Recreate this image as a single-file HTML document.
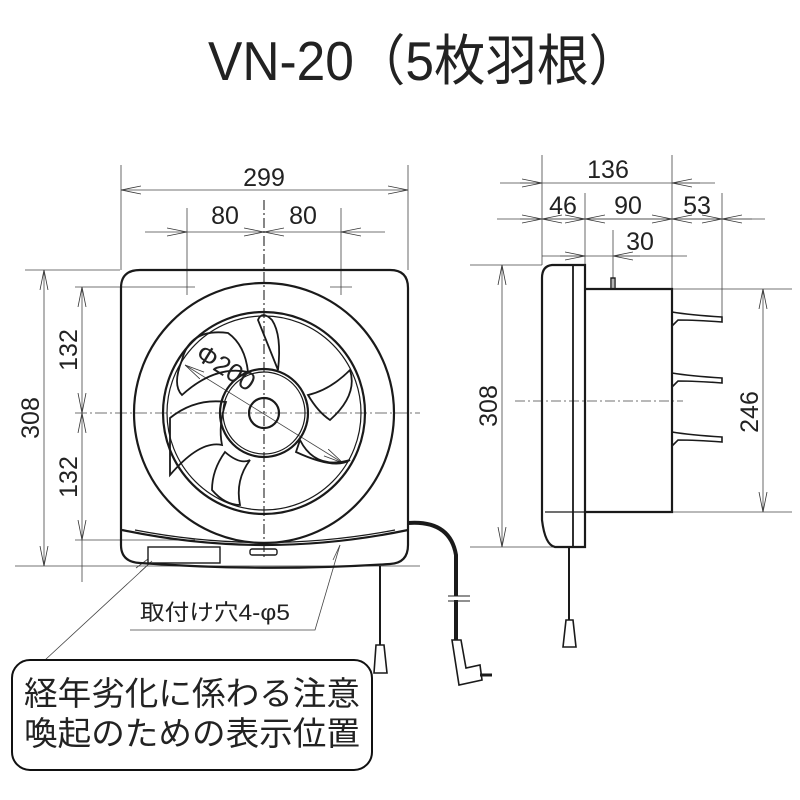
<!DOCTYPE html>
<html><head><meta charset="utf-8"><style>
html,body{margin:0;padding:0;background:#fff;width:800px;height:800px;overflow:hidden}
svg{display:block}
text{font-family:"Liberation Sans","Noto Sans CJK JP",sans-serif;fill:#222}
</style></head><body>
<svg width="800" height="800" viewBox="0 0 800 800" xmlns="http://www.w3.org/2000/svg">
<defs>
<marker id="a" viewBox="0 0 20 10" refX="20" refY="5" markerWidth="20" markerHeight="10" orient="auto-start-reverse" markerUnits="userSpaceOnUse"><path d="M0,1 L20,5 L0,9" fill="none" stroke="#333" stroke-width="0.8"/></marker>
</defs>
<text x="208" y="80" font-size="55" textLength="432" lengthAdjust="spacingAndGlyphs" fill="#222">VN-20（5枚羽根）</text>

<g stroke="#444" stroke-width="0.8" fill="none">
<line x1="121" y1="165" x2="121" y2="270"/><line x1="408" y1="165" x2="408" y2="270"/>
<line x1="121" y1="190" x2="408" y2="190" marker-start="url(#a)" marker-end="url(#a)"/>
<line x1="187" y1="208" x2="187" y2="295"/><line x1="341" y1="208" x2="341" y2="295"/>
<line x1="145" y1="232" x2="187" y2="232" marker-end="url(#a)"/>
<line x1="187" y1="232" x2="264" y2="232" marker-end="url(#a)"/>
<line x1="264" y1="232" x2="341" y2="232" marker-start="url(#a)"/>
<line x1="341" y1="232" x2="385" y2="232" marker-start="url(#a)"/>
<line x1="25" y1="270" x2="120" y2="270"/><line x1="15" y1="566" x2="420" y2="566"/>
<line x1="44" y1="270" x2="44" y2="566" marker-start="url(#a)" marker-end="url(#a)"/>
<line x1="75" y1="287" x2="195" y2="287"/><line x1="75" y1="540" x2="195" y2="540"/>
<line x1="82" y1="287" x2="82" y2="413" marker-start="url(#a)" marker-end="url(#a)"/>
<line x1="82" y1="413" x2="82" y2="540" marker-start="url(#a)" marker-end="url(#a)"/>
<line x1="82" y1="540" x2="82" y2="582"/>
<line x1="330" y1="287" x2="352" y2="287"/>
<line x1="75" y1="413" x2="420" y2="413" stroke-dasharray="12,3,2,3"/>
<line x1="264" y1="200" x2="264" y2="560" stroke-dasharray="10,3,2,3" stroke-width="1.3"/>
<line x1="185" y1="365" x2="343" y2="463" marker-start="url(#a)" marker-end="url(#a)"/>
<polyline points="130,630 315,630 340,545" /><line x1="340" y1="545" x2="333" y2="560"/>
<line x1="45" y1="660" x2="150" y2="563"/><line x1="140" y1="572" x2="152" y2="561"/><line x1="136" y1="568" x2="148" y2="559"/>
<line x1="542" y1="155" x2="542" y2="265"/><line x1="672" y1="155" x2="672" y2="289"/>
<line x1="585" y1="193" x2="585" y2="289"/><line x1="722" y1="193" x2="722" y2="318"/>
<line x1="500" y1="183" x2="715" y2="183"/>
<line x1="520" y1="183" x2="542" y2="183" marker-end="url(#a)"/><line x1="672" y1="183" x2="700" y2="183" marker-start="url(#a)"/>
<line x1="497" y1="219" x2="765" y2="219"/>
<line x1="520" y1="219" x2="542" y2="219" marker-end="url(#a)"/><line x1="542" y1="219" x2="585" y2="219" marker-start="url(#a)" marker-end="url(#a)"/>
<line x1="585" y1="219" x2="672" y2="219" marker-start="url(#a)" marker-end="url(#a)"/>
<line x1="672" y1="219" x2="722" y2="219" marker-start="url(#a)" marker-end="url(#a)"/>
<line x1="722" y1="219" x2="752" y2="219" marker-start="url(#a)"/>
<line x1="542" y1="256" x2="687" y2="256"/>
<line x1="560" y1="256" x2="585" y2="256" marker-end="url(#a)"/><line x1="613" y1="256" x2="640" y2="256" marker-start="url(#a)"/>
<line x1="613" y1="230" x2="613" y2="289"/>
<line x1="470" y1="265" x2="542" y2="265"/><line x1="470" y1="547" x2="565" y2="547"/>
<line x1="502" y1="265" x2="502" y2="547" marker-start="url(#a)" marker-end="url(#a)"/>
<line x1="672" y1="289" x2="792" y2="289"/><line x1="672" y1="512" x2="792" y2="512"/>
<line x1="763" y1="289" x2="763" y2="512" marker-start="url(#a)" marker-end="url(#a)"/>
<line x1="515" y1="401" x2="683" y2="401" stroke-dasharray="10,3,2,3"/>
</g>

<g stroke="#1a1a1a" stroke-width="2.2" fill="none">
<path d="M140,270 H390 Q408,270 408,288 V545 Q408,563 390,564 Q264,572 140,563 Q121,562 121,545 V288 Q121,270 140,270 Z"/>
<circle cx="264" cy="413" r="130"/>
<circle cx="264" cy="413" r="101"/>
<circle cx="264" cy="413" r="97" stroke-width="1.2"/>
<circle cx="264" cy="413" r="44"/>
<circle cx="264" cy="413" r="41" stroke-width="1.2"/>
<circle cx="264" cy="413" r="15"/>
<path d="M122,530 Q264,560 408,530"/>
<path d="M135,530 Q264,555 395,530" stroke-width="1.2"/>
<rect x="148" y="547" width="72" height="16" stroke-width="1.4"/>
<rect x="250" y="549" width="27" height="6" rx="2" stroke-width="1.4"/>
<g stroke-width="1.8">
<path d="M258,320 Q262,310 272,320 Q282,335 278,370 Q270,350 258,320Z"/>
<path d="M182,360 Q190,328 228,333 Q245,345 248,372 Q215,365 182,395 Q172,385 182,360Z"/>
<path d="M170,418 Q195,398 226,402 Q218,425 222,445 Q200,440 170,475 Z"/>
<path d="M225,452 Q240,465 250,460 Q235,480 240,505 Q225,505 212,490 Q212,470 225,452Z"/>
<path d="M300,440 Q315,470 350,460 Q335,470 296,452 Z"/>
<path d="M308,395 Q330,390 350,370 Q358,395 330,420 Q318,412 308,395Z"/>
</g>
<path d="M408,523 Q450,520 456,555 V640" stroke-width="4"/>
<line x1="380" y1="566" x2="380" y2="645" stroke-width="2"/>
<path d="M376,645 L384,645 L387,673 L374,673 Z" stroke-width="1.6"/>
<path d="M452,640 L461,640 L466,668 L480,665 L482,680 L459,685 Z" stroke-width="1.6"/>
<line x1="480" y1="675" x2="492" y2="675" stroke-width="3"/>
</g>
<line x1="448" y1="598" x2="470" y2="598" stroke="#fff" stroke-width="4"/>
<line x1="448" y1="596" x2="470" y2="596" stroke="#222" stroke-width="1"/><line x1="448" y1="601" x2="470" y2="601" stroke="#222" stroke-width="1"/>

<g stroke="#1a1a1a" stroke-width="2.2" fill="none">
<path d="M585,265 H552 Q542,266 542,278 V520 Q545,545 555,547 H585 Z"/>
<line x1="573" y1="265" x2="573" y2="547" stroke-width="1.8"/>
<line x1="545" y1="512" x2="585" y2="512" stroke-width="1.2"/>
<path d="M585,289 H672 V512 H585"/>
<path d="M672,312 Q690,315 722,317 V322 Q695,320 678,320 L672,326" stroke-width="1.6"/>
<path d="M672,373 Q690,376 722,378 V383 Q695,381 678,381 L672,387" stroke-width="1.6"/>
<path d="M672,432 Q690,435 722,437 V442 Q695,440 678,440 L672,446" stroke-width="1.6"/>
<rect x="611" y="278" width="4" height="11" stroke-width="1.4"/>
<line x1="569" y1="547" x2="569" y2="620" stroke-width="2"/>
<path d="M566,620 L573,620 L576,647 L563,647 Z" stroke-width="1.6"/>
</g>

<g font-size="25">
<text x="264" y="186" text-anchor="middle">299</text>
<text x="225" y="224" text-anchor="middle">80</text>
<text x="303" y="224" text-anchor="middle">80</text>
<text transform="translate(39,418) rotate(-90)" text-anchor="middle">308</text>
<text transform="translate(77,350) rotate(-90)" text-anchor="middle">132</text>
<text transform="translate(77,477) rotate(-90)" text-anchor="middle">132</text>
<text transform="translate(194,358) rotate(32)" font-size="26">Φ200</text>
<text x="608" y="178" text-anchor="middle">136</text>
<text x="563" y="214" text-anchor="middle">46</text>
<text x="628" y="214" text-anchor="middle">90</text>
<text x="697" y="214" text-anchor="middle">53</text>
<text x="640" y="250" text-anchor="middle">30</text>
<text transform="translate(497,406) rotate(-90)" text-anchor="middle">308</text>
<text transform="translate(758,412) rotate(-90)" text-anchor="middle">246</text>
</g>
<text x="140" y="620" font-size="22" textLength="150" lengthAdjust="spacingAndGlyphs">取付け穴4-φ5</text>
<rect x="12" y="660" width="360" height="110" rx="18" fill="none" stroke="#111" stroke-width="2"/>
<text x="24" y="705" font-size="33" textLength="336" lengthAdjust="spacingAndGlyphs">経年劣化に係わる注意</text>
<text x="24" y="745" font-size="33" textLength="336" lengthAdjust="spacingAndGlyphs">喚起のための表示位置</text>
</svg>
</body></html>
